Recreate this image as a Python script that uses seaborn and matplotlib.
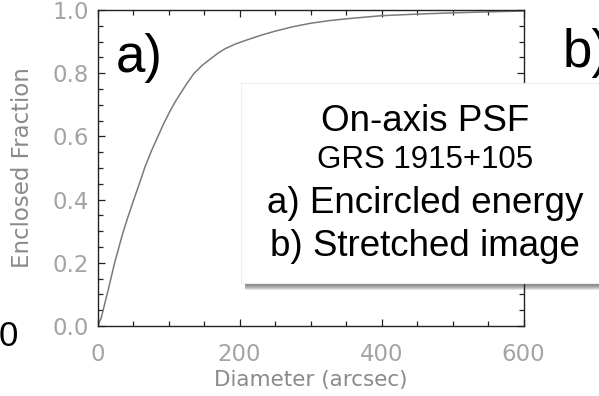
import matplotlib
matplotlib.use("Agg")
import matplotlib.pyplot as plt
from matplotlib.patches import Rectangle
from matplotlib.ticker import MultipleLocator, FormatStrFormatter
import seaborn as sns

# Data
diameter = [0, 5, 10, 15, 24, 35, 42, 51, 60, 67, 76, 85, 93, 102, 110, 118, 125,
            136, 148, 160, 170, 180, 195, 210, 230, 250, 275, 300, 325, 350,
            400, 450, 500, 550, 600]
enclosed = [0.0, 0.025, 0.07, 0.115, 0.2, 0.29, 0.34, 0.4, 0.458, 0.505, 0.555,
            0.6, 0.64, 0.68, 0.712, 0.74, 0.765, 0.8, 0.826, 0.847, 0.864, 0.878,
            0.893, 0.905, 0.92, 0.933, 0.947, 0.958, 0.966, 0.972, 0.982, 0.987,
            0.991, 0.994, 0.997]
x_ticks = [0, 200, 400, 600]
y_ticks = [0.0, 0.2, 0.4, 0.6, 0.8, 1.0]
box_lines = ["On-axis PSF", "GRS 1915+105", "a) Encircled energy", "b) Stretched image"]

sns.set_theme(style="ticks")
plt.rcParams['font.family'] = ['DejaVu Sans']

W, H = 599, 396
fig = plt.figure(figsize=(W / 100, H / 100), dpi=100)
fig.patch.set_facecolor("white")

def fx(px):
    return px / W

def fy(py):
    return 1 - py / H

ax_left, ax_right, ax_top, ax_bottom = 97.6, 523.5, 10, 326
ax = fig.add_axes([fx(ax_left), fy(ax_bottom), (ax_right - ax_left) / W, (ax_bottom - ax_top) / H])
ax.set_facecolor("white")

sns.lineplot(x=diameter, y=enclosed, ax=ax, color="#7a7a7a", linewidth=1.1)

ax.set_xlim(0, 600)
ax.set_ylim(0, 1.0)
ax.set_xticks(x_ticks)
ax.set_yticks(y_ticks)
ax.xaxis.set_minor_locator(MultipleLocator(50))
ax.yaxis.set_minor_locator(MultipleLocator(0.05))
ax.yaxis.set_major_formatter(FormatStrFormatter('%.1f'))
ax.xaxis.set_major_formatter(FormatStrFormatter('%d'))

for s in ax.spines.values():
    s.set_color("#222222")
    s.set_linewidth(1.0)

ax.tick_params(which="both", direction="in", top=True, right=True, color="#222222", width=0.9)
ax.tick_params(which="major", length=5)
ax.tick_params(which="minor", length=3.6)
ax.tick_params(axis="x", which="major", pad=12, labelsize=16.5, labelcolor="#a4a4a4")
ax.tick_params(axis="y", which="major", pad=6, labelsize=16.5, labelcolor="#a4a4a4")

ax.set_xlabel("Diameter (arcsec)", fontsize=15.5, color="#8a8a8a")
ax.set_ylabel("Enclosed Fraction", fontsize=16.5, color="#8a8a8a")
ax.xaxis.set_label_coords(0.5, (ax_bottom - 370) / (ax_bottom - ax_top))
ax.yaxis.set_label_coords((34.5 - ax_left) / (ax_right - ax_left), 0.5)

# Big panel labels
arial = "Liberation Sans"
fig.text(fx(116), fy(72), "a)", fontsize=38, family=arial, color="black",
         ha="left", va="baseline")
fig.text(fx(563), fy(67), "b)", fontsize=38, family=arial, color="black",
         ha="left", va="baseline")
fig.text(fx(-1), fy(346), "0", fontsize=25, family=arial, color="black",
         ha="left", va="baseline")

# Text box with drop shadow
bx0, by0, bx1, by1 = 241, 83, 601, 283
for i in range(1, 8):
    fig.patches.append(Rectangle((fx(bx0 + 4), fy(by1 + i)), (bx1 - bx0) / W, (by1 - by0) / H,
                                 transform=fig.transFigure, facecolor="#3a3a3a",
                                 edgecolor="none", alpha=0.14, zorder=2))
fig.patches.append(Rectangle((fx(bx0), fy(by1)), (bx1 - bx0) / W, (by1 - by0) / H,
                             transform=fig.transFigure, facecolor="white",
                             edgecolor="#eeeeee", linewidth=0.8, zorder=3))

cx = 425
baselines = [131, 167.7, 212.7, 256]
sizes = [26.5, 22.5, 26.5, 26.5]
for line, b, s in zip(box_lines, baselines, sizes):
    fig.text(fx(cx), fy(b), line, fontsize=s, family=arial, color="black",
             ha="center", va="baseline", zorder=4)

fig.savefig("out.png", dpi=100)
